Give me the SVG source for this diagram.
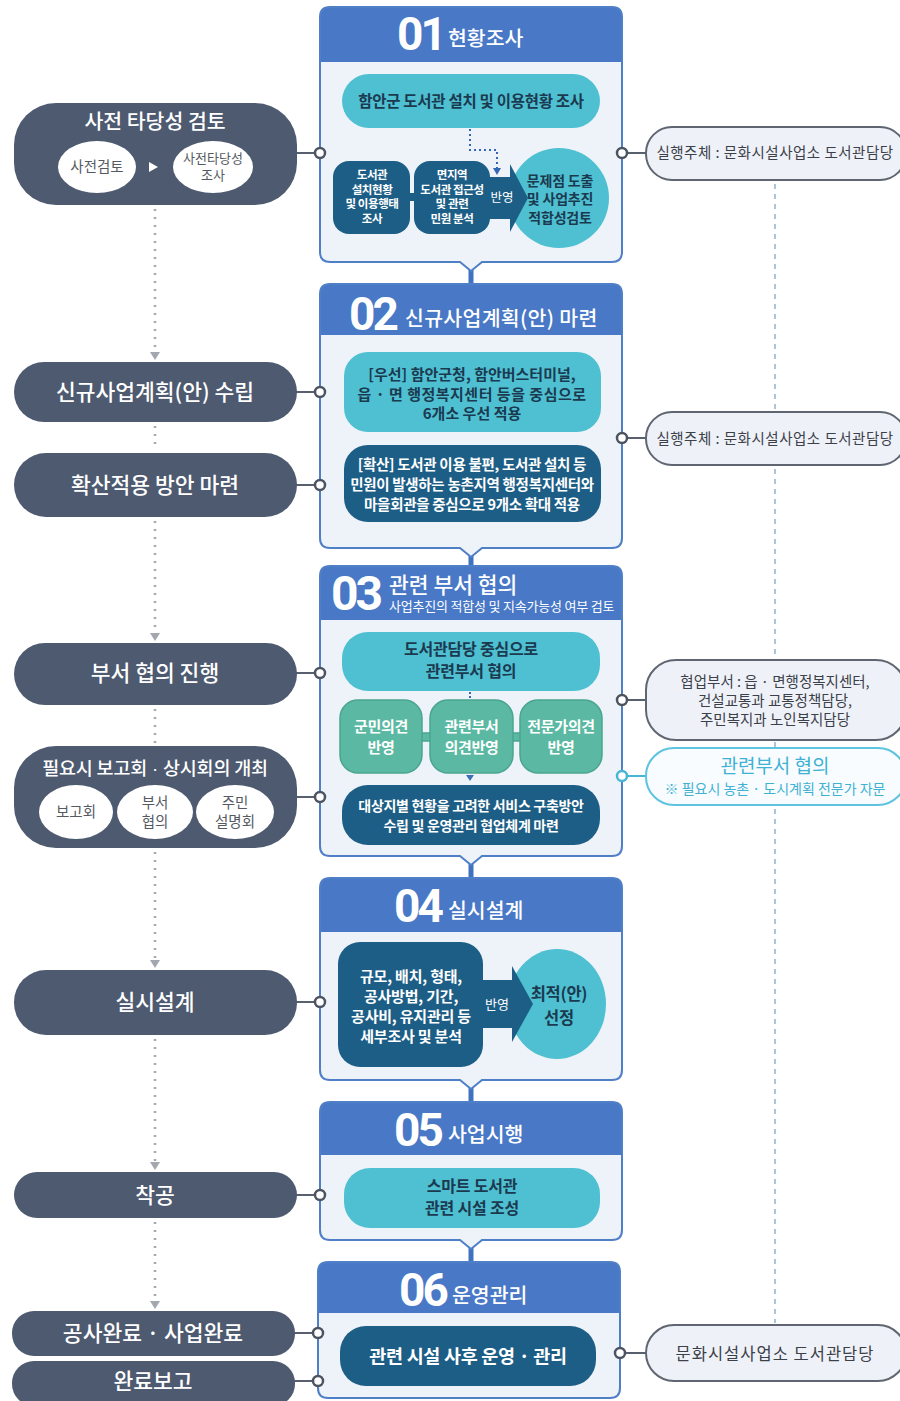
<svg xmlns="http://www.w3.org/2000/svg" width="900" height="1401" viewBox="0 0 900 1401">
<style>
text{font-family:'Noto Sans CJK KR','Noto Sans',sans-serif;}
.ln{fill:#4e5a70;}
.lt{fill:#ffffff;font-size:21.5px;font-weight:500;text-anchor:middle;}
.ell{fill:#ffffff;}
.et{fill:#555a62;font-size:13px;text-anchor:middle;}
.et2{fill:#555a62;font-size:14.5px;text-anchor:middle;}
.bx{fill:#eef3f9;}
.bxs{fill:none;stroke:#4f7fc6;stroke-width:2;}
.hd{fill:#4878c6;}
.num{font-family:Roboto,'Noto Sans',sans-serif;font-weight:700;font-size:46px;fill:#ffffff;letter-spacing:-3px;}
.ht{fill:#ffffff;font-size:20.5px;font-weight:500;}
.teal{fill:#4ec0d2;}
.dark{fill:#1d5e86;}
.grn{fill:#5bb9a3;stroke:#4aa58f;stroke-width:1.5;}
.tt{fill:#1b3a50;font-weight:700;text-anchor:middle;}
.wt{fill:#ffffff;font-weight:700;text-anchor:middle;}
.rp{fill:#eef2f8;stroke:#5f6571;stroke-width:2;}
.rt{fill:#3c4049;font-size:14.5px;text-anchor:middle;}
.cl{stroke:#59606d;stroke-width:2;fill:none;}
.cc{fill:#ffffff;stroke:#4c5361;stroke-width:2.5;}
.dot{stroke:#a2a7b0;stroke-width:2.5;stroke-dasharray:2 6;fill:none;}
.ah{fill:#a2a7b0;}
.dash{stroke:#a9c6dd;stroke-width:2;stroke-dasharray:5 5;fill:none;}
.link{stroke:#3f73c0;stroke-width:5;}
.ls{font-family:'Liberation Sans',sans-serif;}
</style>

<g id="connectors">
  <!-- left dotted flow -->
  <line class="dot" x1="155" y1="209" x2="155" y2="350"/>
  <polygon class="ah" points="150,352 160,352 155,360"/>
  <line class="dot" x1="155" y1="426" x2="155" y2="450"/>
  <line class="dot" x1="155" y1="521" x2="155" y2="632"/>
  <polygon class="ah" points="150,633 160,633 155,641"/>
  <line class="dot" x1="155" y1="709" x2="155" y2="744"/>
  <line class="dot" x1="155" y1="852" x2="155" y2="960"/>
  <polygon class="ah" points="150,960 160,960 155,968"/>
  <line class="dot" x1="155" y1="1039" x2="155" y2="1162"/>
  <polygon class="ah" points="150,1162 160,1162 155,1170"/>
  <line class="dot" x1="155" y1="1222" x2="155" y2="1300"/>
  <polygon class="ah" points="150,1301 160,1301 155,1309"/>
  <!-- right dashed -->
  <line class="dash" x1="775" y1="184" x2="775" y2="410"/>
  <line class="dash" x1="775" y1="469" x2="775" y2="658"/>
  <line class="dash" x1="775" y1="742" x2="775" y2="747"/>
  <line class="dash" x1="775" y1="809" x2="775" y2="1323"/>
  <!-- stage links -->
  <line class="link" x1="471" y1="268" x2="471" y2="285"/>
  <line class="link" x1="471" y1="554" x2="471" y2="567"/>
  <line class="link" x1="471" y1="862" x2="471" y2="879"/>
  <line class="link" x1="471" y1="1086" x2="471" y2="1103"/>
  <line class="link" x1="471" y1="1246" x2="471" y2="1263"/>
  <!-- left to stage -->
  <line class="cl" x1="296" y1="153" x2="316" y2="153"/>
  <line class="cl" x1="296" y1="392" x2="316" y2="392"/>
  <line class="cl" x1="296" y1="485" x2="316" y2="485"/>
  <line class="cl" x1="296" y1="673" x2="316" y2="673"/>
  <line class="cl" x1="296" y1="797" x2="316" y2="797"/>
  <line class="cl" x1="296" y1="1002" x2="316" y2="1002"/>
  <line class="cl" x1="296" y1="1195" x2="316" y2="1195"/>
  <line class="cl" x1="294" y1="1333" x2="314" y2="1333"/>
  <line class="cl" x1="294" y1="1381" x2="314" y2="1381"/>
  <!-- stage to right -->
  <line class="cl" x1="626" y1="153" x2="647" y2="153"/>
  <line class="cl" x1="626" y1="438" x2="647" y2="438"/>
  <line class="cl" x1="626" y1="700" x2="647" y2="700"/>
  <line x1="626" y1="776" x2="647" y2="776" stroke="#45b6d6" stroke-width="2"/>
  <line class="cl" x1="624" y1="1353" x2="647" y2="1353"/>
</g>

<!-- Left column nodes -->
<g id="n-pre">
  <rect class="ln" x="14" y="103" width="283" height="102" rx="42"/>
  <text class="lt" x="155" y="129" style="font-size:20.5px">사전 타당성 검토</text>
  <ellipse class="ell" cx="97" cy="167" rx="39" ry="26"/>
  <text class="et" x="97" y="172" style="font-size:14.5px">사전검토</text>
  <polygon fill="#ffffff" points="149,162 158,167 149,172"/>
  <ellipse class="ell" cx="213" cy="167" rx="40" ry="26"/>
  <text class="et" x="213" y="162.5">사전타당성</text>
  <text class="et" x="213" y="179.5">조사</text>
</g>
<g id="n-plan">
  <rect class="ln" x="14" y="362" width="283" height="60" rx="30"/>
  <text class="lt" x="155" y="400">신규사업계획(안) 수립</text>
</g>
<g id="n-expand">
  <rect class="ln" x="14" y="453" width="283" height="64" rx="32"/>
  <text class="lt" x="155" y="493">확산적용 방안 마련</text>
</g>
<g id="n-dept">
  <rect class="ln" x="14" y="643" width="283" height="62" rx="31"/>
  <text class="lt" x="155" y="681">부서 협의 진행</text>
</g>
<g id="n-meeting">
  <rect class="ln" x="14" y="746" width="283" height="102" rx="42"/>
  <text class="lt" x="155" y="774.5" style="font-size:18.5px;letter-spacing:-0.2px">필요시 보고회<tspan class="ls"> · </tspan>상시회의 개최</text>
  <ellipse class="ell" cx="76" cy="812" rx="37" ry="27"/>
  <text class="et2" x="76" y="817">보고회</text>
  <ellipse class="ell" cx="155" cy="812" rx="38" ry="27"/>
  <text class="et2" x="155" y="808">부서</text>
  <text class="et2" x="155" y="827">협의</text>
  <ellipse class="ell" cx="235" cy="812" rx="39" ry="27"/>
  <text class="et2" x="235" y="808">주민</text>
  <text class="et2" x="235" y="827">설명회</text>
</g>
<g id="n-design">
  <rect class="ln" x="14" y="970" width="283" height="65" rx="32"/>
  <text class="lt" x="155" y="1010">실시설계</text>
</g>
<g id="n-start">
  <rect class="ln" x="14" y="1172" width="283" height="46" rx="23"/>
  <text class="lt" x="155" y="1203">착공</text>
</g>
<g id="n-complete">
  <rect class="ln" x="12" y="1311" width="283" height="45" rx="22"/>
  <text class="lt" x="153" y="1341">공사완료 · 사업완료</text>
</g>
<g id="n-report">
  <rect class="ln" x="12" y="1361" width="283" height="45" rx="22"/>
  <text class="lt" x="153" y="1389">완료보고</text>
</g>

<!-- Stage 01 -->
<g id="s01">
  <path class="bx" d="M330,7 H612 Q622,7 622,17 V252 Q622,262 612,262 H482 L471,271 L460,262 H330 Q320,262 320,252 V17 Q320,7 330,7 Z"/>
  <path class="hd" d="M320,62 V17 Q320,7 330,7 H612 Q622,7 622,17 V62 Z"/>
  <path class="bxs" d="M330,7 H612 Q622,7 622,17 V252 Q622,262 612,262 H482 L471,271 L460,262 H330 Q320,262 320,252 V17 Q320,7 330,7 Z"/>
  <text class="num" x="397" y="50">01</text>
  <text class="ht" x="448" y="46">현황조사</text>
  <rect class="teal" x="342" y="74" width="258" height="54" rx="27"/>
  <text class="tt" x="471" y="106.5" font-size="15.5" letter-spacing="-0.3">함안군 도서관 설치 및 이용현황 조사</text>
  <path d="M470,129 V150 H497 V168" fill="none" stroke="#3566b3" stroke-width="2" stroke-dasharray="2 3"/>
  <polygon fill="#3566b3" points="493,168 501,168 497,175"/>
  <circle class="teal" cx="559" cy="198" r="50"/>
  <rect class="dark" x="333" y="161" width="77" height="73" rx="16"/>
  <rect class="dark" x="408" y="193" width="8" height="8"/>
  <rect class="dark" x="414" y="161" width="76" height="73" rx="16"/>
  <rect class="dark" x="484" y="177" width="28" height="42"/>
  <polygon class="dark" points="510,164 528,198 510,232"/>
  <g font-size="11.5" letter-spacing="-0.4">
    <text class="wt" x="372" y="179">도서관</text>
    <text class="wt" x="372" y="193.5">설치현황</text>
    <text class="wt" x="372" y="208">및 이용행태</text>
    <text class="wt" x="372" y="222.5">조사</text>
    <text class="wt" x="452" y="179">면지역</text>
    <text class="wt" x="452" y="193.5">도서관 접근성</text>
    <text class="wt" x="452" y="208">및 관련</text>
    <text class="wt" x="452" y="222.5">민원 분석</text>
  </g>
  <text x="502" y="202" fill="#ffffff" font-size="12.5" text-anchor="middle">반영</text>
  <g font-size="14" letter-spacing="-0.2">
    <text class="tt" x="560" y="185.5">문제점 도출</text>
    <text class="tt" x="560" y="204">및 사업추진</text>
    <text class="tt" x="560" y="222.5">적합성검토</text>
  </g>
</g>

<!-- Stage 02 -->
<g id="s02">
  <path class="bx" d="M330,284 H612 Q622,284 622,294 V538 Q622,548 612,548 H482 L471,557 L460,548 H330 Q320,548 320,538 V294 Q320,284 330,284 Z"/>
  <path class="hd" d="M320,335 V294 Q320,284 330,284 H612 Q622,284 622,294 V335 Z"/>
  <path class="bxs" d="M330,284 H612 Q622,284 622,294 V538 Q622,548 612,548 H482 L471,557 L460,548 H330 Q320,548 320,538 V294 Q320,284 330,284 Z"/>
  <text class="num" x="349" y="330">02</text>
  <text class="ht" x="405" y="326" style="letter-spacing:0.3px">신규사업계획(안) 마련</text>
  <rect class="teal" x="344" y="352" width="257" height="80" rx="24"/>
  <g font-size="15">
    <text class="tt" x="472" y="380">[우선] 함안군청, 함안버스터미널,</text>
    <text class="tt" x="472" y="399.5" letter-spacing="0.5">읍 · 면 행정복지센터 등을 중심으로</text>
    <text class="tt" x="472" y="419">6개소 우선 적용</text>
  </g>
  <rect class="dark" x="344" y="445" width="257" height="77" rx="24"/>
  <g font-size="14.5" letter-spacing="-0.3">
    <text class="wt" x="472" y="470">[확산] 도서관 이용 불편, 도서관 설치 등</text>
    <text class="wt" x="472" y="490">민원이 발생하는 농촌지역 행정복지센터와</text>
    <text class="wt" x="472" y="510">마을회관을 중심으로 9개소 확대 적용</text>
  </g>
</g>

<!-- Stage 03 -->
<g id="s03">
  <path class="bx" d="M330,566 H612 Q622,566 622,576 V846 Q622,856 612,856 H482 L471,865 L460,856 H330 Q320,856 320,846 V576 Q320,566 330,566 Z"/>
  <path class="hd" d="M320,620 V576 Q320,566 330,566 H612 Q622,566 622,576 V620 Z"/>
  <path class="bxs" d="M330,566 H612 Q622,566 622,576 V846 Q622,856 612,856 H482 L471,865 L460,856 H330 Q320,856 320,846 V576 Q320,566 330,566 Z"/>
  <text class="num" x="331" y="610" style="font-size:48px">03</text>
  <text class="ht" x="389" y="593" style="font-size:21.5px">관련 부서 협의</text>
  <text x="389" y="611" fill="#ffffff" font-size="13" letter-spacing="-0.2">사업추진의 적합성 및 지속가능성 여부 검토</text>
  <rect class="teal" x="342" y="632" width="258" height="59" rx="26"/>
  <g font-size="16" letter-spacing="-0.2">
    <text class="tt" x="471" y="655">도서관담당 중심으로</text>
    <text class="tt" x="471" y="676.5">관련부서 협의</text>
  </g>
  <line x1="470" y1="692" x2="470" y2="700" stroke="#3566b3" stroke-width="2" stroke-dasharray="2 2"/>
  <rect class="grn" x="419" y="733" width="13" height="8"/>
  <rect class="grn" x="510" y="733" width="13" height="8"/>
  <rect class="grn" x="340" y="700" width="82" height="73" rx="18"/>
  <rect class="grn" x="430" y="700" width="83" height="73" rx="18"/>
  <rect class="grn" x="520" y="700" width="82" height="73" rx="18"/>
  <g font-size="15" letter-spacing="-0.3">
    <text class="wt" x="381" y="732" font-weight="500">군민의견</text>
    <text class="wt" x="381" y="753" font-weight="500">반영</text>
    <text class="wt" x="471.5" y="732" font-weight="500">관련부서</text>
    <text class="wt" x="471.5" y="753" font-weight="500">의견반영</text>
    <text class="wt" x="561" y="732" font-weight="500">전문가의견</text>
    <text class="wt" x="561" y="753" font-weight="500">반영</text>
  </g>
  <polygon fill="#3b6fb5" points="466,775 474,775 470,781"/>
  <rect class="dark" x="342" y="785" width="258" height="60" rx="26"/>
  <g font-size="14" letter-spacing="-0.3">
    <text class="wt" x="471" y="810.5">대상지별 현황을 고려한 서비스 구축방안</text>
    <text class="wt" x="471" y="830.5">수립 및 운영관리 협업체계 마련</text>
  </g>
</g>

<!-- Stage 04 -->
<g id="s04">
  <path class="bx" d="M330,878 H612 Q622,878 622,888 V1070 Q622,1080 612,1080 H482 L471,1089 L460,1080 H330 Q320,1080 320,1070 V888 Q320,878 330,878 Z"/>
  <path class="hd" d="M320,932 V888 Q320,878 330,878 H612 Q622,878 622,888 V932 Z"/>
  <path class="bxs" d="M330,878 H612 Q622,878 622,888 V1070 Q622,1080 612,1080 H482 L471,1089 L460,1080 H330 Q320,1080 320,1070 V888 Q320,878 330,878 Z"/>
  <text class="num" x="394" y="922">04</text>
  <text class="ht" x="448" y="918">실시설계</text>
  <ellipse class="teal" cx="557" cy="1004" rx="49" ry="55"/>
  <rect class="dark" x="338" y="942" width="145" height="125" rx="22"/>
  <rect class="dark" x="480" y="980" width="34" height="48"/>
  <polygon class="dark" points="512,966 533,1004 512,1042"/>
  <g font-size="15" letter-spacing="-0.2">
    <text class="wt" x="411" y="981.5">규모, 배치, 형태,</text>
    <text class="wt" x="411" y="1001.5">공사방법, 기간,</text>
    <text class="wt" x="411" y="1021.5">공사비, 유지관리 등</text>
    <text class="wt" x="411" y="1041.5">세부조사 및 분석</text>
  </g>
  <text x="497" y="1009" fill="#ffffff" font-size="13" text-anchor="middle">반영</text>
  <g font-size="16.5" letter-spacing="-0.3">
    <text class="tt" x="559" y="1000">최적(안)</text>
    <text class="tt" x="559" y="1023.5">선정</text>
  </g>
</g>

<!-- Stage 05 -->
<g id="s05">
  <path class="bx" d="M330,1102 H612 Q622,1102 622,1112 V1230 Q622,1240 612,1240 H482 L471,1249 L460,1240 H330 Q320,1240 320,1230 V1112 Q320,1102 330,1102 Z"/>
  <path class="hd" d="M320,1155 V1112 Q320,1102 330,1102 H612 Q622,1102 622,1112 V1155 Z"/>
  <path class="bxs" d="M330,1102 H612 Q622,1102 622,1112 V1230 Q622,1240 612,1240 H482 L471,1249 L460,1240 H330 Q320,1240 320,1230 V1112 Q320,1102 330,1102 Z"/>
  <text class="num" x="394" y="1146">05</text>
  <text class="ht" x="448" y="1142">사업시행</text>
  <rect class="teal" x="344" y="1168" width="256" height="60" rx="26"/>
  <g font-size="16" letter-spacing="-0.2">
    <text class="tt" x="472" y="1192">스마트 도서관</text>
    <text class="tt" x="472" y="1214">관련 시설 조성</text>
  </g>
</g>

<!-- Stage 06 -->
<g id="s06">
  <path class="bx" d="M328,1262 H610 Q620,1262 620,1272 V1388 Q620,1398 610,1398 H328 Q318,1398 318,1388 V1272 Q318,1262 328,1262 Z"/>
  <path class="hd" d="M318,1313 V1272 Q318,1262 328,1262 H610 Q620,1262 620,1272 V1313 Z"/>
  <path class="bxs" d="M328,1262 H610 Q620,1262 620,1272 V1388 Q620,1398 610,1398 H328 Q318,1398 318,1388 V1272 Q318,1262 328,1262 Z"/>
  <text class="num" x="399" y="1306">06</text>
  <text class="ht" x="452" y="1303">운영관리</text>
  <rect class="dark" x="340" y="1326" width="256" height="60" rx="26"/>
  <text class="wt" x="468" y="1362.5" font-size="18.5" letter-spacing="-0.3">관련 시설 사후 운영 · 관리</text>
</g>

<!-- Right column -->
<g id="r-actor1">
  <rect class="rp" x="646" y="127" width="260" height="53" rx="26"/>
  <text class="rt" x="775" y="158" letter-spacing="0.5">실행주체 : 문화시설사업소 도서관담당</text>
</g>
<g id="r-actor2">
  <rect class="rp" x="646" y="412" width="260" height="53" rx="26"/>
  <text class="rt" x="775" y="443.5" letter-spacing="0.5">실행주체 : 문화시설사업소 도서관담당</text>
</g>
<g id="r-coop">
  <rect class="rp" x="646" y="660" width="260" height="80" rx="30"/>
  <text class="rt" x="775" y="687">협업부서 : 읍 · 면행정복지센터,</text>
  <text class="rt" x="775" y="706">건설교통과 교통정책담당,</text>
  <text class="rt" x="775" y="725">주민복지과 노인복지담당</text>
</g>
<g id="r-consult">
  <rect x="646" y="748" width="260" height="57" rx="28" fill="#f8fcfe" stroke="#5ec3de" stroke-width="2"/>
  <text x="775" y="773" fill="#3fb2d4" font-size="19" text-anchor="middle">관련부서 협의</text>
  <text x="775" y="793.5" fill="#3fb2d4" font-size="14" text-anchor="middle">※ 필요시 농촌 · 도시계획 전문가 자문</text>
</g>
<g id="r-actor3">
  <rect class="rp" x="646" y="1325" width="260" height="56" rx="28"/>
  <text class="rt" x="775" y="1359.5" style="font-size:16.5px;letter-spacing:1px">문화시설사업소 도서관담당</text>
</g>

<g id="ports">
  <circle class="cc" cx="320" cy="153" r="5"/>
  <circle class="cc" cx="320" cy="392" r="5"/>
  <circle class="cc" cx="320" cy="485" r="5"/>
  <circle class="cc" cx="320" cy="673" r="5"/>
  <circle class="cc" cx="320" cy="797" r="5"/>
  <circle class="cc" cx="320" cy="1002" r="5"/>
  <circle class="cc" cx="320" cy="1195" r="5"/>
  <circle class="cc" cx="318" cy="1333" r="5"/>
  <circle class="cc" cx="318" cy="1381" r="5"/>
  <circle class="cc" cx="622" cy="153" r="5"/>
  <circle class="cc" cx="622" cy="438" r="5"/>
  <circle class="cc" cx="622" cy="700" r="5"/>
  <circle cx="622" cy="776" r="5" fill="#ffffff" stroke="#45b6d6" stroke-width="2.5"/>
  <circle class="cc" cx="620" cy="1353" r="5"/>
</g>
</svg>
